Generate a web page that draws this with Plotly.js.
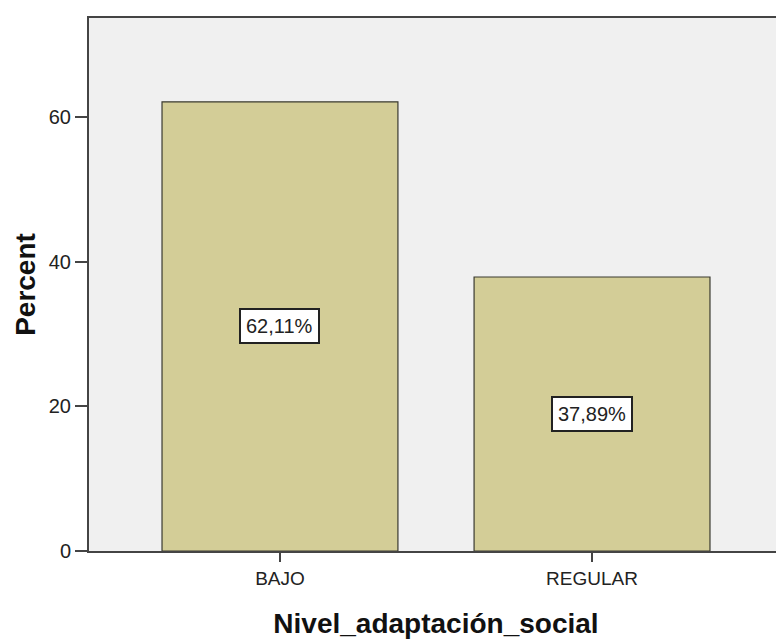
<!DOCTYPE html>
<html><head><meta charset="utf-8">
<script src="https://cdn.plot.ly/plotly-3.0.1.min.js"></script>
<style>html,body{margin:0;padding:0;overflow:hidden;background:#fff}</style>
</head><body>
<div id="chart" style="width:800px;height:642px"></div>
<script>
const categories = ["BAJO", "REGULAR"];
const percents = [62.11, 37.89];
const labels = ["62,11%", "37,89%"];

const trace = {
  type: "bar",
  x: categories,
  y: percents,
  width: 0.756,
  marker: {color: "#d3cd97", line: {color: "#3a3a30", width: 1.2}},
  hoverinfo: "none"
};

const annotations = categories.map((c, i) => ({
  x: c, y: percents[i] / 2, xref: "x", yref: "y",
  text: labels[i], showarrow: false,
  bgcolor: "#ffffff", bordercolor: "#222", borderwidth: 2, borderpad: 5,
  font: {family: "Liberation Sans, Arial, sans-serif", size: 20, color: "#222"}
}));

const layout = {
  width: 800, height: 642,
  margin: {l: 89, r: 17, t: 18, b: 91},
  paper_bgcolor: "#ffffff",
  plot_bgcolor: "#f0f0f0",
  showlegend: false,
  bargap: 0,
  xaxis: {
    type: "category",
    range: [-0.612, 1.612],
    showline: true, mirror: true, linecolor: "#444", linewidth: 2,
    ticks: "outside", ticklen: 9, tickcolor: "#444", tickwidth: 2,
    showgrid: false, zeroline: false,
    tickfont: {family: "Liberation Sans, Arial, sans-serif", size: 19, color: "#222"},
    title: {text: "Nivel_adaptación_social", standoff: 26,
      font: {family: "Liberation Sans, Arial, sans-serif", size: 28, color: "#111", weight: "bold"}}
  },
  yaxis: {
    range: [0, 73.7],
    tickvals: [0, 20, 40, 60],
    showline: true, mirror: true, linecolor: "#444", linewidth: 2,
    ticks: "outside", ticklen: 12, tickcolor: "#444", tickwidth: 2,
    showgrid: false, zeroline: false,
    tickfont: {family: "Liberation Sans, Arial, sans-serif", size: 20, color: "#222"},
    title: {text: "Percent", standoff: 5,
      font: {family: "Liberation Sans, Arial, sans-serif", size: 28, color: "#111", weight: "bold"}}
  },
  annotations: annotations
};

Plotly.newPlot("chart", [trace], layout, {displayModeBar: false, staticPlot: true});
</script>
</body></html>
